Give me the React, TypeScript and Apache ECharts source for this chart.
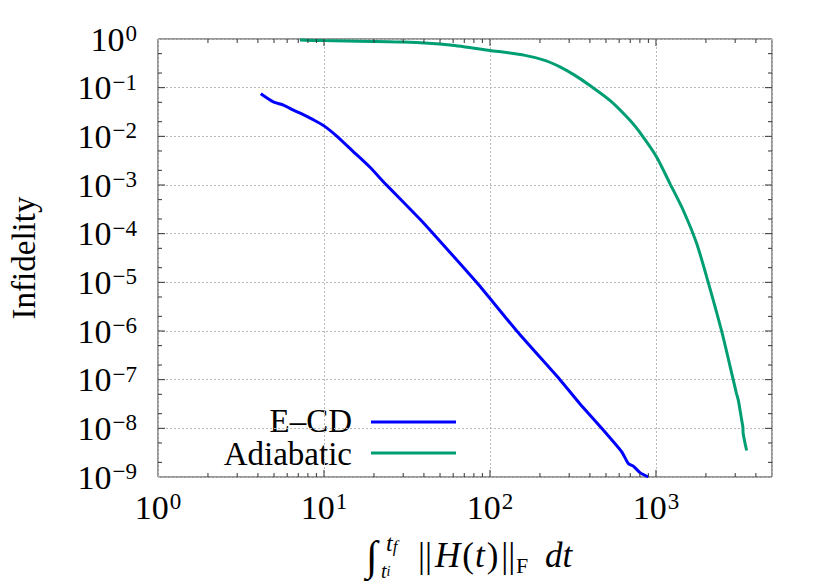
import React, { useEffect, useRef } from 'react';
import * as echarts from 'echarts';

// ---------- data ----------
const ecdX = [4.16, 4.95, 5.7, 6.5, 7.35, 8.6, 10, 11.98, 14.95, 18.93, 23.6, 37.9, 44.7, 83, 145, 264, 348, 471, 621, 681, 730, 801, 899];
const ecdY = [0.075, 0.051, 0.044, 0.035, 0.029, 0.022, 0.0164, 0.01, 0.00492, 0.00231, 1.03e-3, 1.98e-4, 1.07e-4, 1e-5, 1e-6, 1e-7, 3.2e-8, 1e-8, 3.3e-9, 1.9e-9, 1.67e-9, 1.23e-9, 1e-9];

const adiX = [7.17, 9.9, 30, 57.4, 100, 162.5, 214, 264, 325, 400, 528, 697, 838, 1009, 1214, 1459, 1759, 2066, 2487, 2924, 3055, 3133, 3281, 3340, 3350, 3516];
const adiY = [0.949, 0.927, 0.863, 0.756, 0.583, 0.461, 0.364, 0.267, 0.179, 0.111, 0.0548, 0.0213, 0.00968, 0.00376, 1.07e-3, 3.03e-4, 6.27e-5, 9.9e-6, 9.9e-7, 9.8e-8, 5.2e-8, 3.8e-8, 1.5e-8, 1.05e-8, 7.9e-9, 3.5e-9];

const seriesNames = ['E–CD', 'Adiabatic'];
const xRange = [1, 5000];
const yRange = [1e-9, 1];
const xMajorTicks = [1, 10, 100, 1000];
const xMinorMantissas = [2, 3, 4, 5, 6, 7, 8, 9];
const yMajorTicks = [1e-9, 1e-8, 1e-7, 1e-6, 1e-5, 1e-4, 1e-3, 1e-2, 1e-1, 1];
const yMinorMantissas = [2, 5];
const yTitle = 'Infidelity';

// ---------- styles ----------
const FONT = "'Liberation Serif', 'DejaVu Serif', serif";
const BLUE = '#0000ff';
const GREEN = '#009e73';
const AXIS = '#333333';
const MAJOR_LEN = 7;
const MINOR_LEN = 4;

const supText = (e: number) => (e < 0 ? '\u2212' + -e : String(e));
const powFormatter = (v: number) => {
  const l = Math.log10(v);
  const e = Math.round(l);
  if (Math.abs(l - e) > 1e-6) return '';
  return `{b|10}{s|${supText(e)}}`;
};
const labelRich = {
  b: { fontSize: 34, fontFamily: FONT, color: '#000' },
  s: { fontSize: 23, fontFamily: FONT, color: '#000', verticalAlign: 'top', padding: [0, 0, 0, 1] },
};

function zip(xs: number[], ys: number[]) {
  return xs.map((x, i) => [x, ys[i]]);
}

export default function App() {
  const ref = useRef<HTMLDivElement>(null);
  useEffect(() => {
    const chart = echarts.init(ref.current as HTMLDivElement, undefined, { renderer: 'svg' });

    const renderTicks = (_params: any, api: any) => {
      const children: any[] = [];
      const st = { stroke: AXIS, lineWidth: 1 };
      const xTicks: [number, number][] = [];
      xMajorTicks.forEach((d) => {
        xTicks.push([d, MAJOR_LEN]);
        xMinorMantissas.forEach((m) => xTicks.push([m * d, MINOR_LEN]));
      });
      xTicks.forEach(([v, len]) => {
        if (v <= xRange[0] || v >= xRange[1]) return;
        const b = api.coord([v, yRange[0]]);
        const t = api.coord([v, yRange[1]]);
        children.push({ type: 'line', shape: { x1: b[0], y1: b[1], x2: b[0], y2: b[1] - len }, style: st });
        children.push({ type: 'line', shape: { x1: t[0], y1: t[1], x2: t[0], y2: t[1] + len }, style: st });
      });
      const yTicks: [number, number][] = [];
      yMajorTicks.forEach((d) => {
        yTicks.push([d, MAJOR_LEN]);
        yMinorMantissas.forEach((m) => yTicks.push([m * d, MINOR_LEN]));
      });
      yTicks.forEach(([v, len]) => {
        if (v <= yRange[0] || v >= yRange[1]) return;
        const l = api.coord([xRange[0], v]);
        const r = api.coord([xRange[1], v]);
        children.push({ type: 'line', shape: { x1: l[0], y1: l[1], x2: l[0] + len, y2: l[1] }, style: st });
        children.push({ type: 'line', shape: { x1: r[0], y1: r[1], x2: r[0] - len, y2: r[1] }, style: st });
      });
      return { type: 'group', children };
    };

    const splitLine = { show: true, lineStyle: { color: '#b8b8b8', width: 1, type: [2, 2] } };
    const textBase = { fontFamily: FONT, fill: '#000' };

    const option: any = {
      animation: false,
      backgroundColor: '#ffffff',
      grid: {
        left: 158,
        right: 58,
        top: 39,
        bottom: 104,
        show: true,
        borderColor: AXIS,
        borderWidth: 1,
        backgroundColor: 'transparent',
      },
      xAxis: {
        type: 'log',
        logBase: 10,
        min: xRange[0],
        max: xRange[1],
        axisLine: { show: false },
        axisTick: { show: false },
        splitLine,
        axisLabel: { formatter: powFormatter, rich: labelRich, margin: 13, showMinLabel: true },
      },
      yAxis: {
        type: 'log',
        logBase: 10,
        min: yRange[0],
        max: yRange[1],
        axisLine: { show: false },
        axisTick: { show: false },
        splitLine,
        axisLabel: { formatter: powFormatter, rich: labelRich, margin: 21, showMinLabel: true, showMaxLabel: true },
      },
      series: [
        {
          type: 'custom',
          silent: true,
          renderItem: renderTicks,
          data: [[10, 1e-3]],
          z: 5,
        },
        {
          name: seriesNames[0],
          type: 'line',
          data: zip(ecdX, ecdY),
          showSymbol: false,
          smooth: 0.2,
          lineStyle: { color: BLUE, width: 3 },
          itemStyle: { color: BLUE },
          z: 3,
        },
        {
          name: seriesNames[1],
          type: 'line',
          data: zip(adiX, adiY),
          showSymbol: false,
          smooth: 0.25,
          lineStyle: { color: GREEN, width: 3 },
          itemStyle: { color: GREEN },
          z: 3,
        },
      ],
      graphic: [
        {
          type: 'text', x: 352, y: 421,
          style: { ...textBase, text: seriesNames[0], fontSize: 33, lineHeight: 24, align: 'right', verticalAlign: 'middle' },
        },
        { type: 'line', shape: { x1: 371, y1: 422, x2: 456, y2: 422 }, style: { stroke: BLUE, lineWidth: 3 } },
        {
          type: 'text', x: 352, y: 454,
          style: { ...textBase, text: seriesNames[1], fontSize: 33, lineHeight: 24, align: 'right', verticalAlign: 'middle' },
        },
        { type: 'line', shape: { x1: 371, y1: 453, x2: 456, y2: 453 }, style: { stroke: GREEN, lineWidth: 3 } },
        {
          type: 'text', x: 24, y: 258, rotation: Math.PI / 2,
          style: { ...textBase, text: yTitle, fontSize: 33, align: 'center', verticalAlign: 'middle' },
        },
        {
          type: 'text', x: 366, y: 556,
          style: { ...textBase, text: '\u222B', fontSize: 42, lineHeight: 34, align: 'left', verticalAlign: 'middle' },
        },
        {
          type: 'text', x: 386, y: 543,
          style: {
            ...textBase, text: '{i|t}{s|f}', align: 'left', verticalAlign: 'middle',
            rich: {
              i: { fontSize: 24, fontStyle: 'italic', fontFamily: FONT },
              s: { fontSize: 17, fontStyle: 'italic', fontFamily: FONT, verticalAlign: 'bottom' },
            },
          },
        },
        {
          type: 'text', x: 381, y: 571,
          style: {
            ...textBase, text: '{i|t}{s|i}', align: 'left', verticalAlign: 'middle',
            rich: {
              i: { fontSize: 20, fontStyle: 'italic', fontFamily: FONT, lineHeight: 14 },
              s: { fontSize: 14, fontStyle: 'italic', fontFamily: FONT, verticalAlign: 'bottom', lineHeight: 10 },
            },
          },
        },
        {
          type: 'text', x: 418, y: 555,
          style: {
            ...textBase, text: '{a|||}{i|H}{n|(}{j|t}{n|)}{b|||}', align: 'left', verticalAlign: 'middle',
            rich: {
              a: { fontSize: 35, fontFamily: FONT, lineHeight: 28, padding: [0, 3, 0, 0] },
              b: { fontSize: 35, fontFamily: FONT, lineHeight: 28, padding: [0, 0, 0, 3] },
              n: { fontSize: 35, fontFamily: FONT, lineHeight: 28 },
              i: { fontSize: 35, fontFamily: FONT, fontStyle: 'italic', lineHeight: 28, padding: [0, 2, 0, 0] },
              j: { fontSize: 35, fontFamily: FONT, fontStyle: 'italic', lineHeight: 28, padding: [0, 2, 0, 1] },
            },
          },
        },
        {
          type: 'text', x: 516, y: 565,
          style: { ...textBase, text: 'F', fontSize: 22, align: 'left', verticalAlign: 'middle' },
        },
        {
          type: 'text', x: 545, y: 555,
          style: { ...textBase, text: 'dt', fontSize: 35, fontStyle: 'italic', lineHeight: 28, align: 'left', verticalAlign: 'middle' },
        },
      ],
    };
    chart.setOption(option);
    return () => chart.dispose();
  }, []);
  return <div ref={ref} style={{ position: 'absolute', left: 0, top: 0, width: 830, height: 581 }} />;
}
